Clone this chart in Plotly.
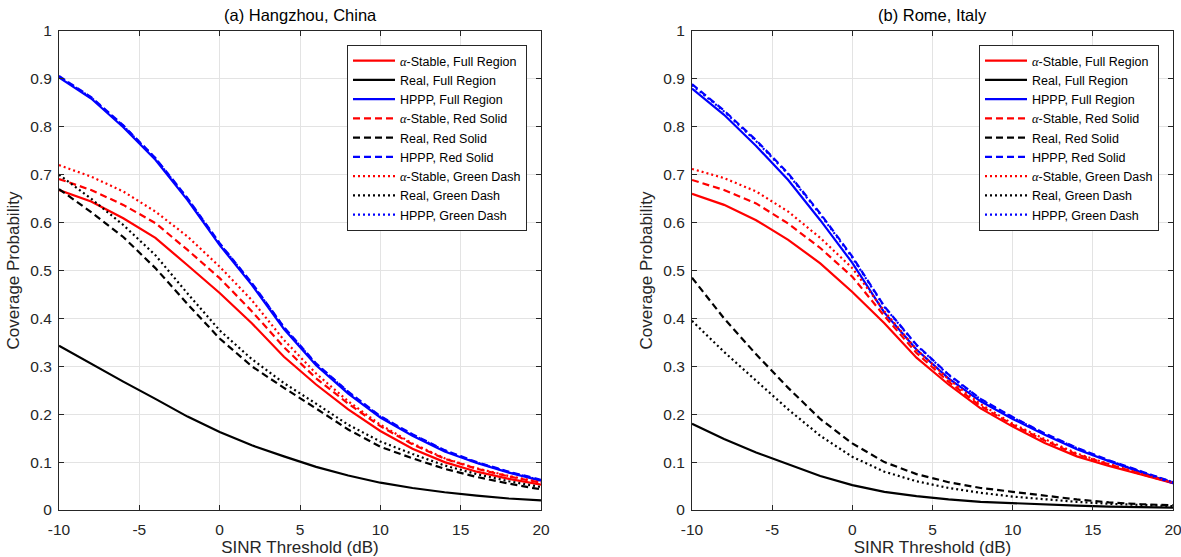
import plotly.graph_objects as go

# ---------------- data ----------------
sinr_db = [-10, -8, -6, -4, -2, 0, 2, 4, 6, 8, 10, 12, 14, 16, 18, 20]

# (a) Hangzhou, China
hz_alpha_full = [0.668, 0.644, 0.609, 0.568, 0.511, 0.453, 0.390, 0.320, 0.262, 0.210, 0.165, 0.128, 0.100, 0.080, 0.065, 0.053]
hz_real_full = [0.343, 0.305, 0.268, 0.232, 0.195, 0.163, 0.135, 0.112, 0.090, 0.072, 0.057, 0.046, 0.037, 0.030, 0.024, 0.020]
hz_hppp_full = [0.903, 0.859, 0.799, 0.731, 0.647, 0.553, 0.470, 0.378, 0.302, 0.243, 0.193, 0.155, 0.122, 0.098, 0.078, 0.061]
hz_alpha_red = [0.691, 0.668, 0.637, 0.599, 0.543, 0.484, 0.415, 0.340, 0.275, 0.222, 0.175, 0.137, 0.107, 0.086, 0.070, 0.057]
hz_real_red = [0.670, 0.622, 0.570, 0.505, 0.430, 0.358, 0.300, 0.255, 0.212, 0.168, 0.132, 0.108, 0.086, 0.069, 0.055, 0.043]
hz_hppp_red = [0.906, 0.862, 0.803, 0.735, 0.651, 0.557, 0.474, 0.382, 0.306, 0.247, 0.196, 0.158, 0.125, 0.100, 0.080, 0.063]
hz_alpha_green = [0.720, 0.696, 0.665, 0.623, 0.571, 0.508, 0.438, 0.355, 0.285, 0.227, 0.178, 0.139, 0.108, 0.087, 0.071, 0.058]
hz_real_green = [0.700, 0.650, 0.595, 0.532, 0.452, 0.375, 0.315, 0.265, 0.222, 0.178, 0.143, 0.117, 0.093, 0.075, 0.060, 0.048]
hz_hppp_green = [0.905, 0.861, 0.802, 0.734, 0.650, 0.556, 0.473, 0.381, 0.305, 0.246, 0.195, 0.157, 0.124, 0.099, 0.079, 0.062]

# (b) Rome, Italy
rm_alpha_full = [0.660, 0.637, 0.605, 0.564, 0.515, 0.455, 0.390, 0.318, 0.262, 0.212, 0.174, 0.140, 0.112, 0.092, 0.074, 0.056]
rm_real_full = [0.180, 0.148, 0.120, 0.095, 0.071, 0.052, 0.038, 0.029, 0.022, 0.017, 0.014, 0.011, 0.009, 0.007, 0.006, 0.005]
rm_hppp_full = [0.880, 0.825, 0.760, 0.689, 0.605, 0.516, 0.412, 0.335, 0.275, 0.227, 0.190, 0.157, 0.127, 0.102, 0.079, 0.056]
rm_alpha_red = [0.689, 0.668, 0.640, 0.598, 0.547, 0.487, 0.405, 0.328, 0.268, 0.217, 0.178, 0.145, 0.116, 0.095, 0.075, 0.057]
rm_real_red = [0.485, 0.400, 0.325, 0.255, 0.190, 0.139, 0.100, 0.075, 0.058, 0.046, 0.038, 0.030, 0.022, 0.016, 0.012, 0.010]
rm_hppp_red = [0.889, 0.834, 0.772, 0.703, 0.619, 0.529, 0.425, 0.345, 0.283, 0.232, 0.194, 0.160, 0.130, 0.104, 0.081, 0.058]
rm_alpha_green = [0.712, 0.693, 0.665, 0.623, 0.568, 0.505, 0.415, 0.335, 0.273, 0.221, 0.180, 0.148, 0.118, 0.096, 0.076, 0.057]
rm_real_green = [0.395, 0.330, 0.270, 0.210, 0.155, 0.111, 0.080, 0.060, 0.046, 0.036, 0.028, 0.022, 0.017, 0.013, 0.010, 0.008]
rm_hppp_green = [0.887, 0.832, 0.770, 0.701, 0.617, 0.527, 0.424, 0.344, 0.282, 0.231, 0.193, 0.159, 0.129, 0.103, 0.080, 0.058]

series_names = [
    "α-Stable, Full Region", "Real, Full Region", "HPPP, Full Region",
    "α-Stable, Red Solid", "Real, Red Solid", "HPPP, Red Solid",
    "α-Stable, Green Dash", "Real, Green Dash", "HPPP, Green Dash",
]
panel_titles = ["(a) Hangzhou, China", "(b) Rome, Italy"]
x_tickvals = [-10, -5, 0, 5, 10, 15, 20]
x_ticktext = ["-10", "-5", "0", "5", "10", "15", "20"]
y_tickvals = [0, 0.1, 0.2, 0.3, 0.4, 0.5, 0.6, 0.7, 0.8, 0.9, 1]
y_ticktext = ["0", "0.1", "0.2", "0.3", "0.4", "0.5", "0.6", "0.7", "0.8", "0.9", "1"]

# ---------------- styling ----------------
FONT = "Liberation Sans, Arial, Helvetica, sans-serif"
colors = ["#ff0000", "#000000", "#0000ff"]
dashes = ["solid", "7px,4px", "2px,3px"]
W, H = 1181, 557
ML, MR, MT, MB = 59, 8, 31, 47
PW = W - ML - MR
PH = H - MT - MB

panels = [
    [hz_alpha_full, hz_real_full, hz_hppp_full, hz_alpha_red, hz_real_red, hz_hppp_red,
     hz_alpha_green, hz_real_green, hz_hppp_green],
    [rm_alpha_full, rm_real_full, rm_hppp_full, rm_alpha_red, rm_real_red, rm_hppp_red,
     rm_alpha_green, rm_real_green, rm_hppp_green],
]

def label(name):
    if name.startswith("α"):
        return "<span style='font-family:Liberation Serif'><i>α</i></span>" + name[1:]
    return name

fig = go.Figure()
for p, series in enumerate(panels):
    for i, ys in enumerate(series):
        fig.add_trace(go.Scatter(
            x=sinr_db, y=ys, mode="lines", name=label(series_names[i]),
            line=dict(color=colors[i % 3], width=2.2, dash=dashes[i // 3]),
            xaxis="x" if p == 0 else "x2", yaxis="y" if p == 0 else "y2",
            legend="legend" if p == 0 else "legend2",
        ))

xdom = [[0, (541 - ML) / PW], [(692 - ML) / PW, 1]]

axis_common = dict(
    showline=True, linecolor="#262626", linewidth=1, mirror="ticks",
    ticks="inside", ticklen=5, tickcolor="#262626",
    showgrid=True, gridcolor="#e3e3e3", gridwidth=1, zeroline=False,
    tickfont=dict(family=FONT, size=15.5, color="#262626"),
    automargin=False,
)
for p in range(2):
    sfx = "" if p == 0 else "2"
    fig.update_layout(**{
        "xaxis" + sfx: dict(axis_common, domain=xdom[p], range=[-10, 20],
                            tickvals=x_tickvals, ticktext=x_ticktext,
                            anchor="y" + sfx, ticklabelstandoff=5,
                            ticklabeloverflow="allow",
                            title=dict(text="SINR Threshold (dB)", standoff=5,
                                       font=dict(family=FONT, size=17, color="#262626"))),
        "yaxis" + sfx: dict(axis_common, domain=[0, 1], range=[0, 1],
                            tickvals=y_tickvals, ticktext=y_ticktext,
                            anchor="x" + sfx, ticklabelstandoff=3,
                            title=dict(text="Coverage Probability", standoff=6,
                                       font=dict(family=FONT, size=17, color="#262626"))),
    })
    fig.add_annotation(text=panel_titles[p], xref="paper", yref="paper",
                       x=(xdom[p][0] + xdom[p][1]) / 2, y=1 + 16 / PH,
                       xanchor="center", yanchor="middle", showarrow=False,
                       font=dict(family=FONT, size=16.5, color="#000000"))

legend_common = dict(
    bgcolor="white", bordercolor="#262626", borderwidth=1,
    font=dict(family=FONT, size=12.5, color="#000000"),
    xanchor="right", yanchor="top", tracegroupgap=0, itemwidth=42,
)
fig.update_layout(
    width=W, height=H, margin=dict(l=ML, r=MR, t=MT, b=MB),
    paper_bgcolor="white", plot_bgcolor="white",
    font=dict(family=FONT),
    legend=dict(legend_common, x=(527 - ML) / PW, y=1 - 14 / PH),
    legend2=dict(legend_common, x=(1159 - ML) / PW, y=1 - 14 / PH),
)

fig.write_html("out.html")
